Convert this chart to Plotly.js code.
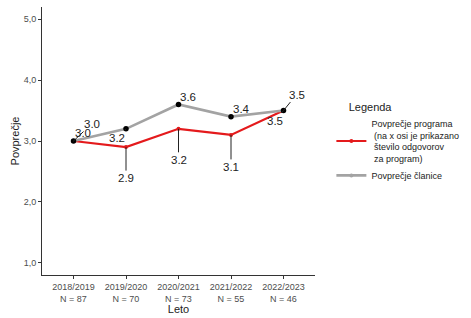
<!DOCTYPE html>
<html><head><meta charset="utf-8">
<script src="https://cdn.plot.ly/plotly-3.0.1.min.js"></script>
<style>html,body{margin:0;padding:0;background:#fff;}#chart{width:471px;height:318px;}</style>
</head><body><div id="chart"></div>
<script>
const years = ["2018/2019","2019/2020","2020/2021","2021/2022","2022/2023"];
const nCounts = [87, 70, 73, 55, 46];
const programMean = [3.0, 2.9, 3.2, 3.1, 3.5];
const memberMean = [3.0, 3.2, 3.6, 3.4, 3.5];
const yTicks = [1, 2, 3, 4, 5];
const yTickText = ["1,0","2,0","3,0","4,0","5,0"];

const xIdx = years.map((_, i) => i + 1);
const tickText = years.map((y, i) => y + "<br>N = " + nCounts[i]);

const font = "Liberation Sans, Arial, sans-serif";

const traces = [
  {x: xIdx, y: programMean, type: "scatter", mode: "lines+markers",
   name: "Povprečje programa<br>&nbsp;(na x osi je prikazano<br>&nbsp;število odgovorov<br>&nbsp;za program)",
   line: {color: "#E41A1C", width: 2.2}, marker: {color: "#E41A1C", size: 4}},
  {x: xIdx, y: memberMean, type: "scatter", mode: "lines+markers",
   name: "Povprečje članice",
   line: {color: "#A3A3A3", width: 2.6}, marker: {color: "#A3A3A3", size: 4}},
  {x: xIdx, y: memberMean, type: "scatter", mode: "markers", showlegend: false,
   marker: {color: "#000", size: 5.5}, hoverinfo: "skip"}
];

// label offsets (pixels) for repelled labels
const progOff = [[9, -8], [0, 31], [0, 31], [0, 32], [-9, 10]];
const memOff = [[18, -17], [-9, 9], [9, -7], [10, -8], [13, -16]];
const annotations = [];
programMean.forEach((v, i) => {
  annotations.push({x: xIdx[i], y: v, xref: "x", yref: "y", text: v.toFixed(1),
    showarrow: true, arrowhead: 0, arrowwidth: 1, arrowcolor: "#222",
    ax: progOff[i][0], ay: progOff[i][1], standoff: 0,
    font: {family: font, size: 11.5, color: "#222"}});
});
memberMean.forEach((v, i) => {
  annotations.push({x: xIdx[i], y: v, xref: "x", yref: "y", text: v.toFixed(1),
    showarrow: true, arrowhead: 0, arrowwidth: 1, arrowcolor: "#222",
    ax: memOff[i][0], ay: memOff[i][1], standoff: 0,
    font: {family: font, size: 11.5, color: "#222"}});
});

const layout = {
  width: 471, height: 318,
  margin: {l: 42, r: 141, t: 7, b: 43},
  paper_bgcolor: "#fff", plot_bgcolor: "#fff",
  font: {family: font, color: "#222"},
  showlegend: true,
  legend: {x: 1.06, y: 0.665, xanchor: "left", yanchor: "top",
    title: {text: "&nbsp;&nbsp;&nbsp;&nbsp;&nbsp;Legenda", font: {size: 11, color: "#222"}},
    font: {size: 9, color: "#222"}, itemwidth: 30, tracegroupgap: 2},
  xaxis: {range: [0.4, 5.6], tickmode: "array", tickvals: xIdx, ticktext: tickText,
    showgrid: false, zeroline: false, showline: true, linecolor: "#333", linewidth: 1,
    ticks: "outside", ticklen: 3, tickcolor: "#333",
    tickfont: {size: 9, color: "#4d4d4d"},
    title: {text: "Leto", font: {size: 11, color: "#222"}, standoff: 2}},
  yaxis: {range: [0.8, 5.2], tickmode: "array", tickvals: yTicks, ticktext: yTickText,
    showgrid: false, zeroline: false, showline: true, linecolor: "#333", linewidth: 1,
    ticks: "outside", ticklen: 3, tickcolor: "#333",
    tickfont: {size: 9, color: "#4d4d4d"},
    title: {text: "Povprečje", font: {size: 11, color: "#222"}, standoff: 1}},
  annotations: annotations
};

Plotly.newPlot("chart", traces, layout, {displayModeBar: false, staticPlot: true});
</script></body></html>
